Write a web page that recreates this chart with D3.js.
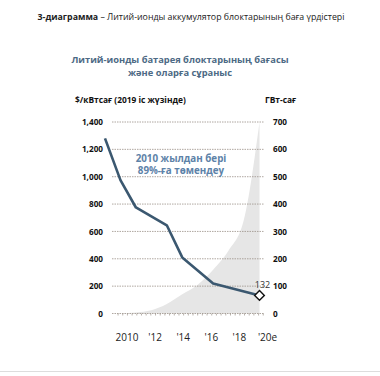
<!DOCTYPE html>
<html><head><meta charset="utf-8">
<script src="https://cdn.jsdelivr.net/npm/d3@7"></script>
<style>
body{margin:0;background:#fff;}
svg{display:block;font-family:"Open Sans","Noto Sans",sans-serif;}
</style></head><body>
<svg id="c" width="380" height="376"></svg>
<script>
// ---- data ----
const priceYears  = [2010, 2011, 2012, 2014, 2015, 2017, 2020];
const priceValues = [1280, 975, 775, 645, 410, 220, 132];
const demandYears  = [2010, 2011, 2012, 2013, 2014, 2015, 2016, 2017, 2018, 2019, 2020];
const demandValues = [0, 1, 4, 12, 35, 70, 105, 160, 230, 345, 700];
const leftTicks  = [0, 200, 400, 600, 800, 1000, 1200, 1400];
const rightTicks = [0, 100, 200, 300, 400, 500, 600, 700];
const xTickYears  = [2010, 2012, 2014, 2016, 2018, 2020];
const xTickLabels = ["2010", "'12", "'14", "'16", "'18", "'20e"];
const lastLabel = "132";

const svg = d3.select("#c");

// scales
const x = d3.scaleLinear().domain([2010, 2020]).range([105, 259.5]);
const xLab = d3.scaleLinear().domain([2010, 2020]).range([126.5, 267]);
const yL = d3.scaleLinear().domain([0, 1400]).range([313.5, 122]);
const yR = d3.scaleLinear().domain([0, 700]).range([313.5, 122]);
const gridX0 = 112, gridX1 = 264;

// titles
const t = svg.append("text").attr("x", 191).attr("y", 20).attr("text-anchor", "middle")
  .attr("font-size", 8.8).attr("fill", "#222");
t.append("tspan").attr("font-weight", 700).text("3-диаграмма");
t.append("tspan").text(" – Литий-ионды аккумулятор блоктарының баға үрдістері");

svg.append("text").attr("x", 180).attr("y", 63).attr("text-anchor", "middle")
  .attr("font-size", 9.3).attr("font-weight", 700).attr("fill", "#4d6a85")
  .text("Литий-ионды батарея блоктарының бағасы");
svg.append("text").attr("x", 180).attr("y", 76).attr("text-anchor", "middle")
  .attr("font-size", 9.3).attr("font-weight", 700).attr("fill", "#4d6a85")
  .text("және оларға сұраныс");

svg.append("text").attr("x", 75).attr("y", 103).attr("font-size", 8.4)
  .attr("font-weight", 700).attr("fill", "#111").text("$/кВтсағ (2019 іс жүзінде)");
svg.append("text").attr("x", 265).attr("y", 103).attr("font-size", 8.4)
  .attr("font-weight", 700).attr("fill", "#111").text("ГВт-сағ");

// demand area
const area = d3.area().x((d, i) => x(demandYears[i])).y0(yR(0)).y1(d => yR(d))
  .curve(d3.curveMonotoneX);
svg.append("path").datum(demandValues).attr("d", area).attr("fill", "#e6e6e6");

// gridlines
svg.append("g").selectAll("line").data(leftTicks.filter(d => d > 0)).join("line")
  .attr("x1", gridX0).attr("x2", gridX1).attr("y1", d => yL(d)).attr("y2", d => yL(d))
  .attr("stroke", "#9a9088").attr("stroke-width", 0.8).attr("stroke-dasharray", "1.5,1");

// baseline with minor ticks
svg.append("line").attr("x1", gridX0).attr("x2", gridX1).attr("y1", yL(0)).attr("y2", yL(0))
  .attr("stroke", "#9a9088").attr("stroke-width", 0.8).attr("stroke-dasharray", "1.5,1");
const minor = d3.range(2009.4, 2020.01, 1/3);
svg.append("g").selectAll("line").data(minor.filter(v => xLab(v) >= gridX0 && xLab(v) <= gridX1)).join("line")
  .attr("x1", d => xLab(d)).attr("x2", d => xLab(d)).attr("y1", yL(0)).attr("y2", yL(0) + 2)
  .attr("stroke", "#9a9088").attr("stroke-width", 0.7);

// left axis
const gl = svg.append("g").attr("transform", "translate(103,0)")
  .call(d3.axisLeft(yL).tickValues(leftTicks).tickSize(0).tickPadding(0).tickFormat(d3.format(",")));
gl.select(".domain").remove();
gl.selectAll("text").attr("font-size", 8.2).attr("font-weight", 700).attr("fill", "#111")
  .attr("font-family", "'Open Sans','Noto Sans',sans-serif");

// right axis
const gr = svg.append("g").attr("transform", "translate(273,0)")
  .call(d3.axisRight(yR).tickValues(rightTicks).tickSize(0).tickPadding(0));
gr.select(".domain").remove();
gr.selectAll("text").attr("font-size", 8.2).attr("font-weight", 700).attr("fill", "#111")
  .attr("font-family", "'Open Sans','Noto Sans',sans-serif");

// bottom axis labels
const gb = svg.append("g").attr("transform", "translate(0,334)")
  .call(d3.axisBottom(xLab).tickValues(xTickYears).tickSize(0).tickPadding(0)
    .tickFormat((d, i) => xTickLabels[i]));
gb.select(".domain").remove();
gb.selectAll("text").attr("font-size", 10).attr("fill", "#222")
  .attr("font-family", "'Open Sans','Noto Sans',sans-serif");

// price line
const line = d3.line().x((d, i) => x(priceYears[i])).y(d => yL(d));
svg.append("path").datum(priceValues).attr("d", line).attr("fill", "none")
  .attr("stroke", "#3b5870").attr("stroke-width", 2.6).attr("stroke-linejoin", "round");

// end marker
const lx = x(priceYears[priceYears.length - 1]), ly = yL(priceValues[priceValues.length - 1]);
svg.append("path").attr("d", d3.symbol().type(d3.symbolDiamond2).size(60)())
  .attr("transform", `translate(${lx},${ly})`).attr("fill", "#fff")
  .attr("stroke", "#111").attr("stroke-width", 1.4);
svg.append("text").attr("x", lx + 3).attr("y", ly - 7).attr("text-anchor", "middle")
  .attr("font-size", 9).attr("fill", "#333").text(lastLabel);

// annotation
const an = svg.append("text").attr("text-anchor", "middle").attr("font-size", 9.8)
  .attr("font-weight", 700).attr("fill", "#5d82a8");
an.append("tspan").attr("x", 181).attr("y", 162).text("2010 жылдан бері");
an.append("tspan").attr("x", 181).attr("y", 174).text("89%-ға төмендеу");

// bottom rule
svg.append("line").attr("x1", 0).attr("x2", 380).attr("y1", 371.5).attr("y2", 371.5)
  .attr("stroke", "#ddd").attr("stroke-width", 1);
</script>
</body></html>
